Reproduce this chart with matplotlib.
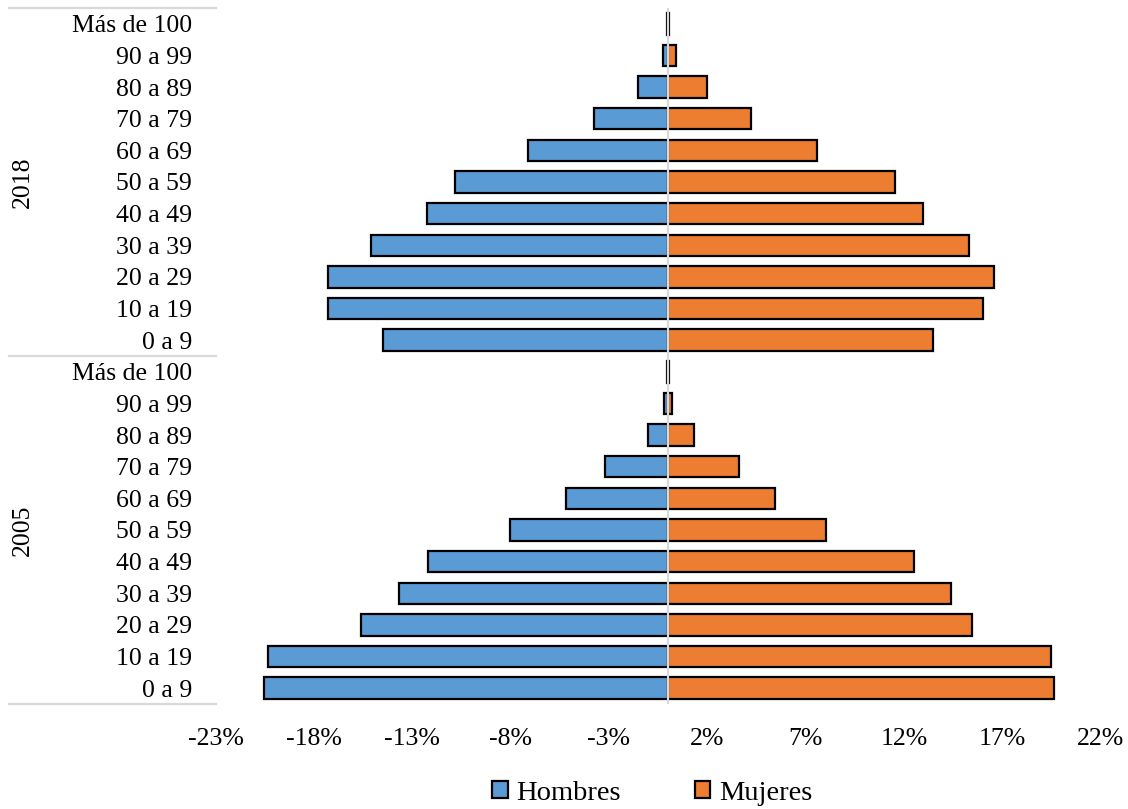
import matplotlib
matplotlib.use("Agg")
import matplotlib.pyplot as plt
from matplotlib.transforms import blended_transform_factory
from matplotlib.lines import Line2D
import numpy as np

plt.rcParams['font.family'] = ['Liberation Serif', 'DejaVu Serif']

ages = ["Más de 100", "90 a 99", "80 a 89", "70 a 79", "60 a 69", "50 a 59",
        "40 a 49", "30 a 39", "20 a 29", "10 a 19", "0 a 9"]
years = ["2018", "2005"]
hombres_2018 = [-0.03, -0.25, -1.53, -3.76, -7.12, -10.83, -12.25, -15.1, -17.3, -17.3, -14.5]
mujeres_2018 = [0.03, 0.41, 1.98, 4.22, 7.57, 11.54, 12.96, 15.3, 16.57, 16.01, 13.47]
hombres_2005 = [-0.03, -0.2, -1.02, -3.2, -5.19, -8.03, -12.2, -13.68, -15.6, -20.34, -20.54]
mujeres_2005 = [0.03, 0.2, 1.32, 3.61, 5.44, 8.03, 12.5, 14.39, 15.45, 19.47, 19.62]
xticks = [-23, -18, -13, -8, -3, 2, 7, 12, 17, 22]
xlabels = ["-23%", "-18%", "-13%", "-8%", "-3%", "2%", "7%", "12%", "17%", "22%"]

W, H = 1128, 809
fig = plt.figure(figsize=(W / 100, H / 100), dpi=100)
ax = fig.add_axes([215.6 / W, 1 - 704 / H, 885.1 / W, 696 / H])

hombres = hombres_2018 + hombres_2005
mujeres = mujeres_2018 + mujeres_2005
labels = ages + ages
y = np.arange(len(labels))

blue = "#5B9BD5"
orange = "#ED7D31"
ax.barh(y, hombres, height=0.68, color=blue, edgecolor="black", linewidth=1.6, label="Hombres", zorder=2)
ax.barh(y, mujeres, height=0.68, color=orange, edgecolor="black", linewidth=1.6, label="Mujeres", zorder=2)
ax.axvline(0, color="#D9D9D9", linewidth=1.6, zorder=3)

ax.set_xlim(-23, 22)
ax.set_ylim(len(labels) - 0.5, -0.5)
ax.set_xticks(xticks)
ax.set_xticklabels(xlabels)
ax.set_yticks(y)
ax.set_yticklabels(labels)
ax.tick_params(axis="both", length=0, labelsize=18.5, colors="black")
ax.tick_params(axis="y", pad=17)
ax.tick_params(axis="x", pad=17)
for s in ax.spines.values():
    s.set_visible(False)

# hierarchical separators and year labels
tr = blended_transform_factory(fig.transFigure, ax.transData)
n = len(ages)
for yy in [-0.5, n - 0.5, 2 * n - 0.5]:
    fig.add_artist(Line2D([9 / W, 216 / W], [yy, yy], transform=tr, color="#D9D9D9",
                          linewidth=1.6, clip_on=False))
for k, yr in enumerate(years):
    ax.text(23 / W, k * n + (n - 1) / 2, yr, transform=tr, rotation=90,
            ha="center", va="center", fontsize=18.5)

fig.legend(loc="center", bbox_to_anchor=(652 / W, 1 - 793 / H), ncol=2, frameon=False,
           fontsize=20.5, handlelength=0.55, handleheight=0.55, handletextpad=0.3,
           columnspacing=2.6)

fig.savefig("out.png", dpi=100)
